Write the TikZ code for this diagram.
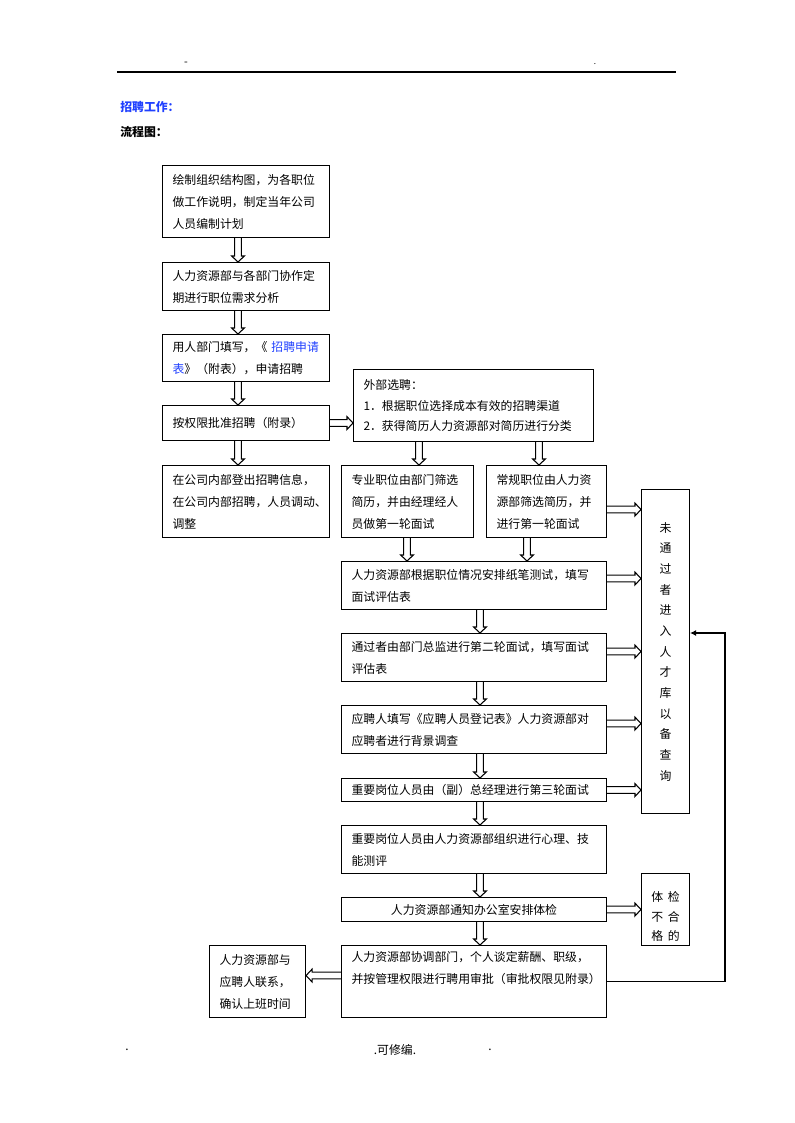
\documentclass[tikz,border=0pt]{standalone}
\usepackage{fontspec}
\setmainfont{Noto Sans CJK SC}
\usetikzlibrary{calc,arrows.meta}
\definecolor{ttlblue}{RGB}{32,64,255}
\newcommand\fs{\fontsize{8.9pt}{16.5pt}\selectfont}
\newcommand\varr[2]{\draw[blk] let \p1=(#1), \p2=(#2) in (\x1-2.5pt,\y1) -- (\x1-2.5pt,\y2+4.5pt) -- (\x1-4.8pt,\y2+4.5pt) -- (\x1,\y2) -- (\x1+4.8pt,\y2+4.5pt) -- (\x1+2.5pt,\y2+4.5pt) -- (\x1+2.5pt,\y1);}
\newcommand\harr[2]{\draw[blk] let \p1=(#1), \p2=(#2) in (\x1,\y1+2.5pt) -- (\x2-4.5pt,\y1+2.5pt) -- (\x2-4.5pt,\y1+4.8pt) -- (\x2,\y1) -- (\x2-4.5pt,\y1-4.8pt) -- (\x2-4.5pt,\y1-2.5pt) -- (\x1,\y1-2.5pt);}
\newcommand\larr[2]{\draw[blk] let \p1=(#1), \p2=(#2) in (\x1,\y1+2.5pt) -- (\x2+4.5pt,\y1+2.5pt) -- (\x2+4.5pt,\y1+4.8pt) -- (\x2,\y1) -- (\x2+4.5pt,\y1-4.8pt) -- (\x2+4.5pt,\y1-2.5pt) -- (\x1,\y1-2.5pt);}
\begin{document}
\begin{tikzpicture}[x=0.75pt,y=-0.75pt,
  box/.style={draw, line width=0.8pt, rectangle, anchor=north west, font=\fs, inner ysep=0pt},
  tb/.style={box, inner xsep=7.5pt, align=left},
  blk/.style={line width=0.8pt, line join=miter},
  txt/.style={inner sep=0pt, font=\fs}]
\useasboundingbox (0,0) rectangle (794,1123);
% header
\coordinate (hl) at (117,72);
\coordinate (hr) at (676,72);
\draw[line width=0.8pt] (hl) -- (hr);
\node[txt, font=\fontsize{8pt}{9pt}\selectfont] (hdash) at (186,64) {-};
\node[txt, font=\fontsize{6pt}{7pt}\selectfont] (hdot) at (595,64) {.};
\node[txt, anchor=west, font=\fs\bfseries, text=ttlblue] (title) at (120,107) {招聘工作：};
\node[txt, anchor=west, font=\fs\bfseries] (sub) at (120,132) {流程图：};
% left column
\node[tb, text width=110.25pt, minimum width=125.25pt, minimum height=54pt] (b1) at (162,165) {绘制组织结构图，为各职位\\做工作说明，制定当年公司\\人员编制计划};
\node[tb, text width=110.25pt, minimum width=125.25pt, minimum height=36pt] (b2) at (162,262) {人力资源部与各部门协作定\\期进行职位需求分析};
\node[tb, text width=110.25pt, minimum width=125.25pt, minimum height=35.25pt] (b3) at (162,334) {用人部门填写，《 \textcolor{ttlblue}{招聘申请}\\\textcolor{ttlblue}{表}》（附表），申请招聘};
\node[tb, text width=110.25pt, minimum width=125.25pt, minimum height=26.25pt] (b4) at (162,405) {按权限批准招聘（附录）};
\node[tb, text width=110.25pt, minimum width=125.25pt, minimum height=54pt] (b5) at (162,465) {在公司内部登出招聘信息，\\在公司内部招聘，人员调动、\\调整};
% external
\node[tb, text width=165pt, minimum width=180pt, minimum height=54pt, font=\fontsize{8.9pt}{15.4pt}\selectfont] (ext) at (353,369) {外部选聘：\\1．根据职位选择成本有效的招聘渠道\\2．获得简历人力资源部对简历进行分类};
\node[tb, text width=84pt, minimum width=99pt, minimum height=54pt] (b6) at (341,465) {专业职位由部门筛选\\简历，并由经理经人\\员做第一轮面试};
\node[tb, text width=75pt, minimum width=90pt, minimum height=54pt] (b7) at (486,465) {常规职位由人力资\\源部筛选简历，并\\进行第一轮面试};
% right column
\node[tb, text width=183.75pt, minimum width=198.75pt, minimum height=36pt] (b8) at (341,561) {人力资源部根据职位情况安排纸笔测试，填写\\面试评估表};
\node[tb, text width=183.75pt, minimum width=198.75pt, minimum height=36pt] (b9) at (341,633) {通过者由部门总监进行第二轮面试，填写面试\\评估表};
\node[tb, text width=183.75pt, minimum width=198.75pt, minimum height=36pt] (b10) at (341,705) {应聘人填写《应聘人员登记表》人力资源部对\\应聘者进行背景调查};
\node[tb, text width=183.75pt, minimum width=198.75pt, minimum height=17.25pt] (b11) at (341,778) {重要岗位人员由（副）总经理进行第三轮面试};
\node[tb, text width=183.75pt, minimum width=198.75pt, minimum height=36pt] (b12) at (341,825) {重要岗位人员由人力资源部组织进行心理、技\\能测评};
\node[tb, text width=183.75pt, minimum width=198.75pt, minimum height=18pt, align=center] (b13) at (341,897) {人力资源部通知办公室安排体检};
\node[tb, text width=183.75pt, minimum width=198.75pt, minimum height=54pt] (b14) at (341,945) {人力资源部协调部门，个人谈定薪酬、职级，\\并按管理权限进行聘用审批（审批权限见附录）\\\strut};
\node[tb, text width=57pt, minimum width=72pt, minimum height=54pt] (b15) at (209,945) {人力资源部与\\应聘人联系，\\确认上班时间};
\node[box, inner xsep=0pt, minimum width=36pt, minimum height=243pt, align=center, font=\fontsize{8.9pt}{15.5pt}\selectfont] (pool) at (641,489) {未\\通\\过\\者\\进\\入\\人\\才\\库\\以\\备\\查\\询};
\node[box, inner sep=0pt, minimum width=36pt, minimum height=54pt] (phys) at (641,873) {};
\node[txt, align=center, font=\fontsize{8.9pt}{14.6pt}\selectfont] (physt) at ([yshift=-5.5pt]phys.center) {体\hspace{3.5pt}检\\不\hspace{3.5pt}合\\格\hspace{3.5pt}的};
% arrow columns
\coordinate (axl) at (238,0);
\coordinate (ax1) at (419,0);
\coordinate (ax2) at (539,0);
\coordinate (ax3) at (407,0);
\coordinate (ax4) at (527,0);
\coordinate (axr) at (480,0);
% vertical block arrows
\varr{b1.south -| axl}{b2.north}
\varr{b2.south -| axl}{b3.north}
\varr{b3.south -| axl}{b4.north}
\varr{b4.south -| axl}{b5.north}
\varr{ext.south -| ax1}{b6.north}
\varr{ext.south -| ax2}{b7.north}
\varr{b6.south -| ax3}{b8.north}
\varr{b7.south -| ax4}{b8.north}
\varr{b8.south -| axr}{b9.north}
\varr{b9.south -| axr}{b10.north}
\varr{b10.south -| axr}{b11.north}
\varr{b11.south -| axr}{b12.north}
\varr{b12.south -| axr}{b13.north}
\varr{b13.south -| axr}{b14.north}
% horizontal block arrows
\harr{b4.east}{ext.west}
\harr{[yshift=-6pt]b7.east}{pool.west}
\harr{[yshift=5.25pt]b8.east}{pool.west}
\harr{[yshift=4.5pt]b9.east}{pool.west}
\harr{[yshift=4.5pt]b10.east}{pool.west}
\harr{b11.east}{pool.west}
\harr{b13.east}{phys.west}
\larr{[yshift=4.5pt]b14.west}{b15.east}
% feedback line
\coordinate (fbc) at (725,633);
\draw[line width=0.8pt, -{Latex[length=4.5pt,width=4.5pt]}] (b14.east) -| (fbc) -- (pool.east |- fbc);
% footer
\node[txt] (f1) at (127,1050) {.};
\node[txt] (f2) at (395,1050) {.可修编.};
\node[txt] (f3) at (490,1050) {.};
\end{tikzpicture}
\end{document}
